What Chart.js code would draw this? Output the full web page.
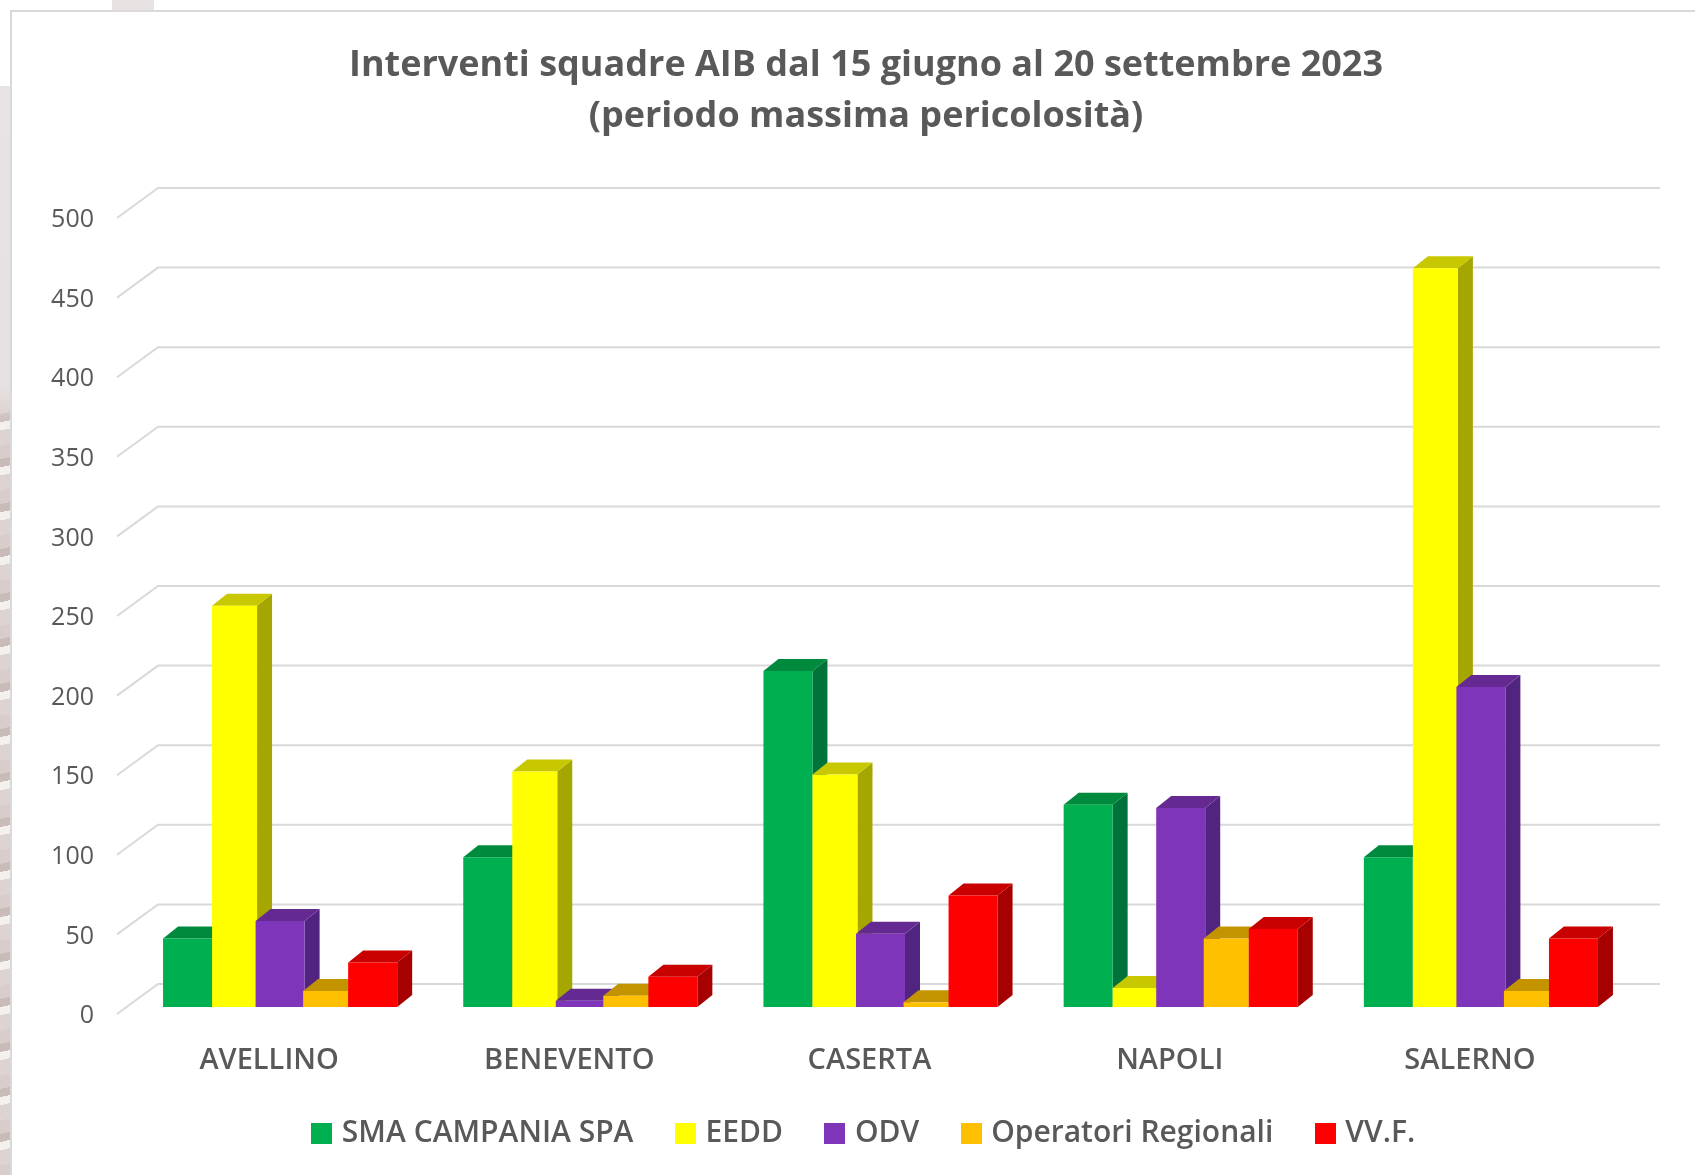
<!DOCTYPE html>
<html lang="it">
<head>
<meta charset="utf-8">
<title>Interventi squadre AIB</title>
<style>
html,body{margin:0;padding:0;width:1695px;height:1175px;overflow:hidden;background:#fff;}
#strip{position:absolute;left:0;top:86px;width:10px;height:1089px;
  background:linear-gradient(180deg,#e9e3e4 0,#e6e0e0 300px,rgba(230,224,224,0) 340px),
  repeating-linear-gradient(168deg,#d8cdca 0 13px,#c9bbb7 13px 21px,#f4f0ee 21px 29px,#ddd3d0 29px 44px);}
#blob{position:absolute;left:112px;top:0;width:42px;height:10px;background:#e8e2e3;}
#frame{position:absolute;left:10px;top:10px;width:1695px;height:1175px;background:#fff;border:2px solid #d9d9d9;box-sizing:border-box;}
#c{position:absolute;left:0;top:0;}
</style>
<script src="https://cdn.jsdelivr.net/npm/chart.js@4"></script>
</head>
<body>
<div id="strip"></div>
<div id="blob"></div>
<div id="frame"></div>
<canvas id="c" width="1695" height="1175"></canvas>
<script>
const categories = ['AVELLINO','BENEVENTO','CASERTA','NAPOLI','SALERNO'];
const seriesNames = ['SMA CAMPANIA SPA','EEDD','ODV','Operatori Regionali','VV.F.'];
const smaCampania = [43, 94, 211, 127, 94];
const eedd        = [252, 148, 146, 12, 464];
const odv         = [54, 4, 46, 125, 201];
const operatori   = [10, 7, 3, 43, 10];
const vvf         = [28, 19, 70, 49, 43];
const titleLines  = ['Interventi squadre AIB dal 15 giugno al 20 settembre 2023','(periodo massima pericolosità)'];

const seriesValues = [smaCampania, eedd, odv, operatori, vvf];
const frontColors = ['#00B050','#FFFF00','#7F35B9','#FFC000','#FF0000'];
const topColors   = ['#008A3E','#C8C800','#642A92','#C49400','#C80000'];
const sideColors  = ['#00733A','#A6A600','#512480','#A67D00','#A60000'];
// small per-series adjustment of the library's bar rectangles (overlap seen in the picture)
const barNudge = [1.1, 1.3, 0, -1.3, -1.1];
const barWidths = [49, 45, 49, 45, 49];
const DX = 15, DY = 12;                 // bar extrusion
const FLOOR_FRONT = 7, WALL_BACK = 23;  // wall/floor offsets from the bar plane
const WALL_LEFT = 158, WALL_RIGHT = 1660, FLOOR_LEFT = 117;
const TEXT = '#595959', GRID = '#d9d9d9';
const FONT = '"Open Sans", sans-serif';

function swatch(color) {
  const c = document.createElement('canvas');
  c.width = 21; c.height = 21;
  const x = c.getContext('2d');
  x.fillStyle = color;
  x.fillRect(0, 0, 21, 21);
  return c;
}

const bars3d = {
  id: 'bars3d',
  afterDatasetsUpdate(chart) {
    chart.getSortedVisibleDatasetMetas().forEach(meta => {
      meta.data.forEach(el => {
        el.x += barNudge[meta.index];
        el.width = barWidths[meta.index];
      });
    });
  },
  beforeDatasetsDraw(chart) {
    const ctx = chart.ctx, y = chart.scales.y;
    ctx.save();
    ctx.strokeStyle = GRID;
    ctx.lineWidth = 2;
    y.ticks.forEach(t => {
      const p = y.getPixelForValue(t.value);
      ctx.beginPath();
      ctx.moveTo(FLOOR_LEFT, p + FLOOR_FRONT);
      ctx.lineTo(WALL_LEFT, p - WALL_BACK);
      ctx.lineTo(WALL_RIGHT, p - WALL_BACK);
      ctx.stroke();
    });
    // left to right, so each bar overlaps its left neighbour
    chart.getSortedVisibleDatasetMetas().slice().sort((a, b) => a.index - b.index).forEach(meta => {
      meta.data.forEach(el => {
        const l = el.x - el.width / 2, r = el.x + el.width / 2, t = el.y, b = el.base;
        ctx.fillStyle = sideColors[meta.index];
        ctx.beginPath();
        ctx.moveTo(r, t); ctx.lineTo(r + DX, t - DY); ctx.lineTo(r + DX, b - DY); ctx.lineTo(r, b);
        ctx.closePath(); ctx.fill();
        ctx.fillStyle = topColors[meta.index];
        ctx.beginPath();
        ctx.moveTo(l, t); ctx.lineTo(l + DX, t - DY); ctx.lineTo(r + DX, t - DY); ctx.lineTo(r, t);
        ctx.closePath(); ctx.fill();
        el.draw(ctx);
      });
    });
    ctx.restore();
    return false;
  }
};

new Chart(document.getElementById('c'), {
  type: 'bar',
  plugins: [bars3d],
  data: {
    labels: categories,
    datasets: seriesNames.map((name, i) => ({
      label: name,
      data: seriesValues[i],
      backgroundColor: frontColors[i],
      borderWidth: 0,
      categoryPercentage: 0.78,
      barPercentage: 1
    }))
  },
  options: {
    responsive: false,
    animation: false,
    layout: { padding: { left: 37, right: 0, top: 0, bottom: 17 } },
    plugins: {
      tooltip: { enabled: false },
      title: {
        display: true,
        text: titleLines,
        color: TEXT,
        font: { family: FONT, size: 36, weight: '700', lineHeight: 1.417 },
        padding: { top: 40, bottom: 69 }
      },
      legend: {
        position: 'bottom',
        labels: {
          color: TEXT,
          font: { family: FONT, size: 30, weight: '600' },
          usePointStyle: true,
          pointStyleWidth: 10,
          boxHeight: 21,
          padding: 47,
          generateLabels(chart) {
            return Chart.defaults.plugins.legend.labels.generateLabels(chart).map((item, i) =>
              Object.assign(item, { pointStyle: swatch(frontColors[i]) }));
          }
        }
      }
    },
    scales: {
      x: {
        afterFit(s) { s.height = 64; },
        grid: { display: false, drawTicks: false },
        border: { display: false },
        ticks: {
          color: TEXT,
          font: { family: FONT, size: 29, weight: '600' },
          padding: 36,
          labelOffset: -11,
          maxRotation: 0
        }
      },
      y: {
        min: 0,
        max: 500,
        afterFit(s) { s.width = 93; },
        grid: { display: false, drawTicks: false },
        border: { display: false },
        ticks: {
          color: TEXT,
          font: { family: FONT, size: 25 },
          stepSize: 50,
          padding: 36,
          labelOffset: 9
        }
      },
      // empty right-hand margin so the plot stops short of the frame while title and legend stay centred
      margin: {
        position: 'right',
        afterFit(s) { s.width = 64; },
        grid: { display: false, drawTicks: false },
        border: { display: false },
        ticks: { display: false }
      }
    }
  }
});
</script>
</body>
</html>
